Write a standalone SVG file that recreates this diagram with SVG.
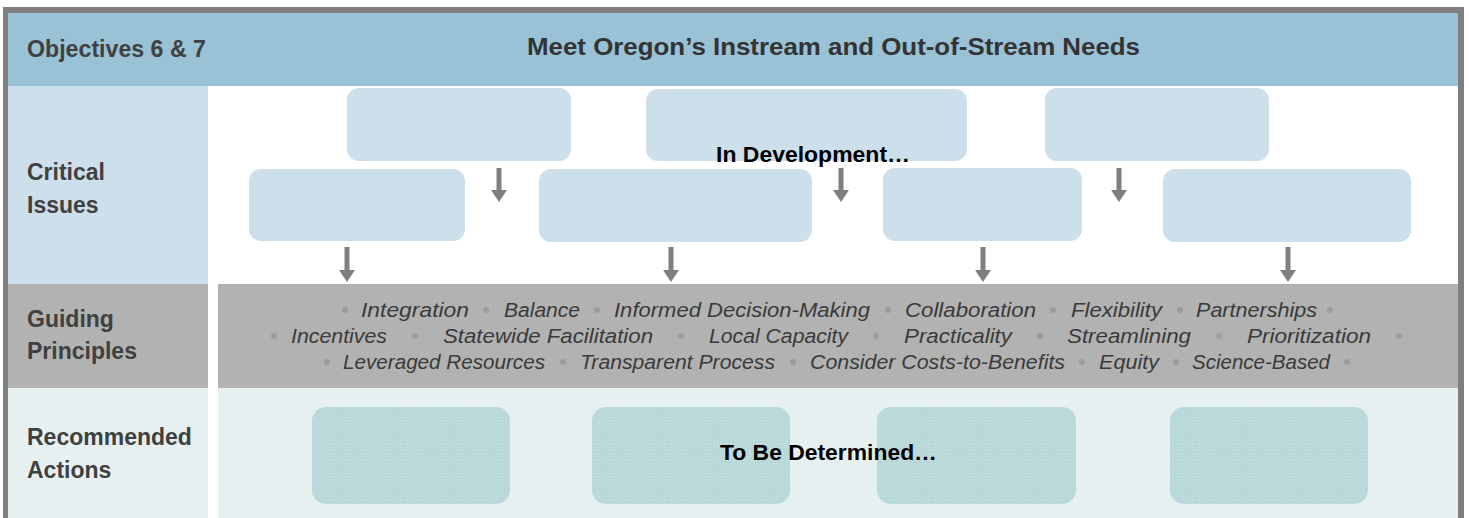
<svg xmlns="http://www.w3.org/2000/svg" width="1469" height="518" viewBox="0 0 1469 518">
<style>
.lbl{font-family:"Liberation Sans",Arial,sans-serif;font-weight:bold;font-size:23px;fill:#404040}
.ttl{font-family:"Liberation Sans",Arial,sans-serif;font-weight:bold;font-size:23px;fill:#333333}
.note{font-family:"Liberation Sans",Arial,sans-serif;font-weight:bold;font-size:22px;fill:#000000}
.gp{font-family:"Liberation Sans",Arial,sans-serif;font-style:italic;font-size:20px;fill:#3a3a3a}
.ci{fill:#CCDFEA}
.ra{fill:url(#dots)}
.bul{fill:#9c9c9c}
.conn{stroke:#7F7F7F;stroke-width:5;fill:none;marker-end:url(#ah)}
</style>
<defs>
<pattern id="dots" width="3.3" height="3.3" patternUnits="userSpaceOnUse">
<rect width="3.3" height="3.3" fill="#B7D7D8"/>
<rect x="1" y="1" width="1.1" height="1.1" fill="#D2E7E8"/>
</pattern>
<marker id="ah" markerUnits="userSpaceOnUse" markerWidth="12" markerHeight="16" refX="0" refY="8" orient="auto" viewBox="0 0 12 16">
<path d="M0,0 L12,8 L0,16 z" fill="#7F7F7F"/>
</marker>
</defs>

<rect x="0" y="0" width="1469" height="518" fill="#ffffff"/>
<!-- outer frame -->
<rect x="3" y="7" width="1461" height="520" fill="#7F7F7F"/>
<rect x="8" y="13" width="1450" height="510" fill="#ffffff"/>

<!-- bands -->
<g id="header">
<rect x="8" y="13" width="1450" height="73" fill="#9AC2D6"/>
<text class="lbl" x="27" y="57" textLength="179" lengthAdjust="spacingAndGlyphs">Objectives 6 &amp; 7</text>
<text class="ttl" x="527" y="55" textLength="613" lengthAdjust="spacingAndGlyphs">Meet Oregon’s Instream and Out-of-Stream Needs</text>
</g>

<g id="row-critical-issues">
<rect x="8" y="86" width="200" height="198" fill="#CCDFEA"/>
<text class="lbl" x="27" y="180">Critical</text>
<text class="lbl" x="27" y="213">Issues</text>
</g>

<g id="row-guiding-principles">
<rect x="8" y="284" width="200" height="104" fill="#B2B2B2"/>
<rect x="218" y="284" width="1240" height="104" fill="#B2B2B2"/>
<text class="lbl" x="27" y="327">Guiding</text>
<text class="lbl" x="27" y="359">Principles</text>
</g>

<g id="row-recommended-actions">
<rect x="8" y="388" width="200" height="135" fill="#E6F0F1"/>
<rect x="218" y="388" width="1240" height="135" fill="#E6F0F1"/>
<text class="lbl" x="27" y="445">Recommended</text>
<text class="lbl" x="27" y="478">Actions</text>
</g>

<!-- critical issue boxes -->
<g id="ci-top-1"><rect class="ci" x="347" y="88" width="224" height="73" rx="12"/></g>
<g id="ci-top-2"><rect class="ci" x="646" y="89" width="321" height="72" rx="12"/></g>
<g id="ci-top-3"><rect class="ci" x="1045" y="88" width="224" height="73" rx="12"/></g>
<g id="ci-bot-1"><rect class="ci" x="249" y="169" width="216" height="72" rx="12"/></g>
<g id="ci-bot-2"><rect class="ci" x="539" y="169" width="273" height="73" rx="12"/></g>
<g id="ci-bot-3"><rect class="ci" x="883" y="168" width="199" height="73" rx="12"/></g>
<g id="ci-bot-4"><rect class="ci" x="1163" y="169" width="248" height="73" rx="12"/></g>

<g id="connectors">
<line class="conn" x1="499" y1="168" x2="499" y2="190"/>
<line class="conn" x1="841" y1="168" x2="841" y2="190"/>
<line class="conn" x1="1119" y1="168" x2="1119" y2="190"/>
<line class="conn" x1="347" y1="247" x2="347" y2="270"/>
<line class="conn" x1="671" y1="247" x2="671" y2="270"/>
<line class="conn" x1="983" y1="247" x2="983" y2="270"/>
<line class="conn" x1="1288" y1="247" x2="1288" y2="270"/>
</g>

<g id="in-development">
<text class="note" x="716" y="162" textLength="194" lengthAdjust="spacingAndGlyphs">In Development…</text>
</g>

<!-- guiding principles text -->
<g id="guiding-principles-list">
<circle class="bul" cx="345" cy="310" r="3"/>
<text class="gp" x="361" y="317" textLength="108" lengthAdjust="spacingAndGlyphs">Integration</text>
<circle class="bul" cx="486" cy="310" r="3"/>
<text class="gp" x="504" y="317" textLength="76" lengthAdjust="spacingAndGlyphs">Balance</text>
<circle class="bul" cx="597" cy="310" r="3"/>
<text class="gp" x="614" y="317" textLength="256" lengthAdjust="spacingAndGlyphs">Informed Decision-Making</text>
<circle class="bul" cx="888" cy="310" r="3"/>
<text class="gp" x="905" y="317" textLength="131" lengthAdjust="spacingAndGlyphs">Collaboration</text>
<circle class="bul" cx="1053" cy="310" r="3"/>
<text class="gp" x="1071" y="317" textLength="91" lengthAdjust="spacingAndGlyphs">Flexibility</text>
<circle class="bul" cx="1180" cy="310" r="3"/>
<text class="gp" x="1196" y="317" textLength="121" lengthAdjust="spacingAndGlyphs">Partnerships</text>
<circle class="bul" cx="1330" cy="310" r="3"/>

<circle class="bul" cx="274" cy="336" r="3"/>
<text class="gp" x="291" y="343" textLength="96" lengthAdjust="spacingAndGlyphs">Incentives</text>
<circle class="bul" cx="415" cy="336" r="3"/>
<text class="gp" x="443" y="343" textLength="210" lengthAdjust="spacingAndGlyphs">Statewide Facilitation</text>
<circle class="bul" cx="681" cy="336" r="3"/>
<text class="gp" x="709" y="343" textLength="139" lengthAdjust="spacingAndGlyphs">Local Capacity</text>
<circle class="bul" cx="876" cy="336" r="3"/>
<text class="gp" x="904" y="343" textLength="108" lengthAdjust="spacingAndGlyphs">Practicality</text>
<circle class="bul" cx="1040" cy="336" r="3"/>
<text class="gp" x="1067" y="343" textLength="124" lengthAdjust="spacingAndGlyphs">Streamlining</text>
<circle class="bul" cx="1219" cy="336" r="3"/>
<text class="gp" x="1247" y="343" textLength="124" lengthAdjust="spacingAndGlyphs">Prioritization</text>
<circle class="bul" cx="1399" cy="336" r="3"/>

<circle class="bul" cx="327" cy="362" r="3"/>
<text class="gp" x="343" y="369" textLength="202" lengthAdjust="spacingAndGlyphs">Leveraged Resources</text>
<circle class="bul" cx="563" cy="362" r="3"/>
<text class="gp" x="580" y="369" textLength="195" lengthAdjust="spacingAndGlyphs">Transparent Process</text>
<circle class="bul" cx="793" cy="362" r="3"/>
<text class="gp" x="810" y="369" textLength="255" lengthAdjust="spacingAndGlyphs">Consider Costs-to-Benefits</text>
<circle class="bul" cx="1082" cy="362" r="3"/>
<text class="gp" x="1099" y="369" textLength="60" lengthAdjust="spacingAndGlyphs">Equity</text>
<circle class="bul" cx="1176" cy="362" r="3"/>
<text class="gp" x="1192" y="369" textLength="138" lengthAdjust="spacingAndGlyphs">Science-Based</text>
<circle class="bul" cx="1347" cy="362" r="3"/>
</g>

<!-- recommended action boxes -->
<g id="ra-1"><rect class="ra" x="312" y="407" width="198" height="97" rx="14"/></g>
<g id="ra-2"><rect class="ra" x="592" y="407" width="198" height="97" rx="14"/></g>
<g id="ra-3"><rect class="ra" x="877" y="407" width="199" height="97" rx="14"/></g>
<g id="ra-4"><rect class="ra" x="1170" y="407" width="198" height="97" rx="14"/></g>

<g id="to-be-determined">
<text class="note" x="720" y="460" textLength="217" lengthAdjust="spacingAndGlyphs">To Be Determined…</text>
</g>
</svg>
